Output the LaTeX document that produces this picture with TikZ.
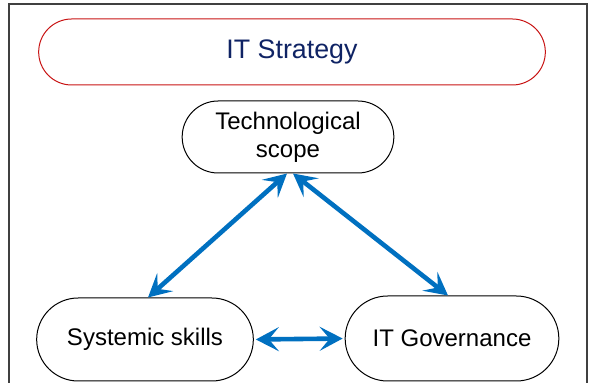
\documentclass[tikz,border=0pt]{standalone}
\usepackage{fontspec}
\setmainfont{Liberation Sans}
\usetikzlibrary{positioning,shapes.misc,arrows.meta}

\definecolor{arrowblue}{RGB}{0,112,192}
\definecolor{titlenavy}{RGB}{15,35,100}
\definecolor{titlered}{RGB}{200,20,20}

\tikzset{
  pill/.style={rounded rectangle, draw=black, line width=0.5pt, align=center,
    font=\fontsize{12}{14}\selectfont},
  link/.style={arrowblue, line width=2.3pt, {Stealth[length=11.5pt,width=12pt,inset=5pt]}-{Stealth[length=11.5pt,width=12pt,inset=5pt]}}
}

\begin{document}
\begin{tikzpicture}[x=0.5pt,y=-0.5pt]

	\useasboundingbox (0,0) rectangle (589,383);
	\draw[line width=0.8pt, black!75] (9,395) -- (9,4) -- (587,4) -- (587,395);

	\node[pill, draw=titlered, text=titlenavy, minimum width=260pt, minimum height=33pt,
	      font=\fontsize{13.4}{16}\selectfont] (strategy) at (292,52) {IT Strategy};

	\node[pill, minimum width=112.5pt, minimum height=36pt] (tech) at (288,137) {Technological\\scope};
	\node[pill, minimum width=115pt, minimum height=41.5pt] (sys) at (145,339.5) {Systemic skills};
	\node[pill, minimum width=113.5pt, minimum height=42.5pt] (gov) at (452,338.5) {IT Governance};

	% links between the three pillars
	\draw[link] ([xshift=-0.5pt]tech.south) -- ([xshift=1.5pt]sys.north);
	\draw[link] ([xshift=2.5pt]tech.south) -- ([xshift=-2pt]gov.north);
	\draw[link, shorten <=1pt, shorten >=1pt] (sys.east) -- (gov.west);

\end{tikzpicture}
\end{document}
